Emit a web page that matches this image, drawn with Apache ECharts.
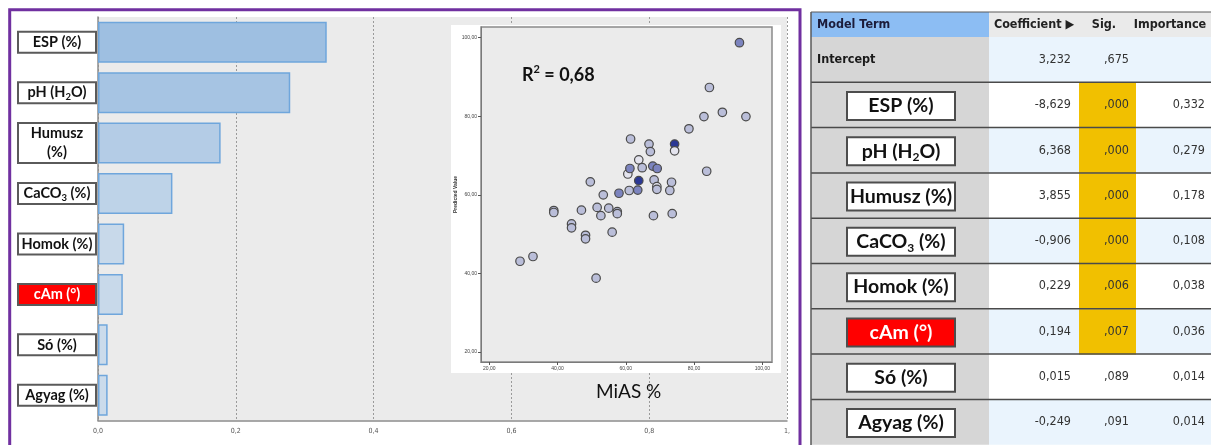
<!DOCTYPE html>
<html>
<head>
<meta charset="utf-8">
<script src="https://cdn.jsdelivr.net/npm/echarts@6/dist/echarts.min.js"></script>
<style>html,body{margin:0;padding:0;background:#fff}#c{width:1211px;height:445px}</style>
</head>
<body>
<div id="c"></div>
<script>
// ---------------- data ----------------
const categories = ['ESP (%)', 'pH (H_2O)', 'Humusz (%)', 'CaCO_3 (%)', 'Homok (%)', 'cAm (°)', 'Só (%)', 'Agyag (%)'];
const importance = [0.332, 0.279, 0.178, 0.108, 0.038, 0.036, 0.014, 0.014];
const barTicks = [0, 0.2, 0.4, 0.6, 0.8, 1.0];

const modelTerms = ['Intercept'].concat(categories);
const coefficients = [3.232, -8.629, 6.368, 3.855, -0.906, 0.229, 0.194, 0.015, -0.249];
const significance = [0.675, 0.000, 0.000, 0.000, 0.000, 0.006, 0.007, 0.089, 0.091];
const tableHeaders = ['Model Term', 'Coefficient ▶', 'Sig.', 'Importance'];

// scatter: observed MiAS % vs predicted value
const observedMiAS = [93.3, 84.5, 82.9, 88.3, 95.2, 78.5, 61.4, 66.8, 74.3, 74.3, 67.2, 63.8, 60.6, 61.2, 64.8, 67.9, 69.2, 83.7, 63.8, 68.3, 73.4, 49.6, 53.4, 58.0, 61.0, 63.5, 69.1, 69.1, 72.9, 38.9, 38.9, 47.0, 51.6, 55.0, 57.5, 57.5, 52.7, 68.1, 73.6, 44.1, 44.1, 48.2, 48.2, 56.0, 29.0, 32.8, 51.3];
const predictedMiAS = [98.7, 87.3, 79.9, 81.0, 79.9, 76.8, 74.2, 72.9, 72.9, 71.2, 71.0, 68.9, 65.3, 66.7, 66.9, 67.3, 66.7, 66.0, 63.6, 63.8, 63.2, 63.3, 60.0, 60.4, 61.1, 61.2, 62.1, 61.4, 61.1, 56.0, 55.5, 56.1, 56.8, 56.6, 55.7, 55.2, 54.7, 54.7, 55.2, 52.6, 51.6, 49.7, 48.8, 50.5, 43.1, 44.3, 38.8];
const pointShade = [2, 1, 1, 1, 1, 1, 1, 1, 3, 0, 1, 0, 0, 2, 1, 2, 2, 1, 3, 1, 1, 1, 1, 2, 1, 2, 0, 1, 1, 1, 1, 1, 1, 1, 1, 1, 1, 1, 1, 1, 1, 1, 1, 1, 1, 1, 1];
const scatterTicks = [20, 40, 60, 80, 100];
const r2Text = '0,68';
const scatterTitle = 'MiAS %';

// ---------------- helpers ----------------
const FONT = 'Lato, "Open Sans", sans-serif';
const NARROW = '"Liberation Sans Narrow", "DejaVu Sans Condensed", "Liberation Sans", sans-serif';
const comma = (v, d) => v.toFixed(d).replace('.', ',');
function toRich(text, style) {
  return text.split('\n').map(line => {
    const parts = line.split(/_(\d)/);
    return parts.map((p, i) => (i % 2 === 1) ? '{' + style + 's|' + p + '}' : (p ? '{' + style + '|' + p + '}' : '')).join('');
  }).join('\n');
}
function barColor(v) {
  const t = Math.min(1, v / 0.332);
  const a = [205, 220, 235], b = [158, 191, 225];
  const c = a.map((x, i) => Math.round(x + (b[i] - x) * t));
  return 'rgb(' + c.join(',') + ')';
}
const shadeColors = ['#E4E4EE', '#BABED9', '#7C84BF', '#2B3894'];

// ---------------- table graphics ----------------
const colX = [811, 989, 1079, 1136, 1211];
const headTop = 12, headBot = 37, rowH = 45.3;
const g = [];
g.push({type: 'rect', z: 1, shape: {x: colX[0], y: headTop, width: colX[1] - colX[0], height: headBot - headTop}, style: {fill: '#8CBDF3'}});
g.push({type: 'rect', z: 1, shape: {x: colX[1], y: headTop, width: colX[4] - colX[1], height: headBot - headTop}, style: {fill: '#EAEAEA'}});
g.push({type: 'text', z: 3, x: colX[0] + 6, y: (headTop + headBot) / 2, style: {text: tableHeaders[0], fill: '#1C1C3A', font: 'bold 12.5px ' + NARROW, verticalAlign: 'middle', align: 'left'}});
const headCenters = [0, 1034, 1104, 1170];
for (let i = 1; i < 4; i++) {
  g.push({type: 'text', z: 3, x: headCenters[i], y: (headTop + headBot) / 2, style: {text: tableHeaders[i], fill: '#222', font: 'bold 12.5px ' + NARROW, verticalAlign: 'middle', align: 'center'}});
}
modelTerms.forEach((term, i) => {
  const top = headBot + i * rowH;
  const cy = top + rowH / 2;
  g.push({type: 'rect', z: 1, shape: {x: colX[0], y: top, width: colX[1] - colX[0], height: rowH}, style: {fill: '#D6D6D6'}});
  g.push({type: 'rect', z: 1, shape: {x: colX[1], y: top, width: colX[4] - colX[1], height: rowH}, style: {fill: (i % 2 === 0) ? '#EAF4FD' : '#FFFFFF'}});
  if (i > 0 && significance[i] < 0.05) {
    g.push({type: 'rect', z: 1.5, shape: {x: colX[2], y: top + 0.5, width: colX[3] - colX[2], height: rowH}, style: {fill: '#F1C000'}});
  }
  if (i === 0) {
    g.push({type: 'text', z: 3, x: colX[0] + 6, y: cy, style: {text: term, fill: '#1a1a1a', font: 'bold 12.5px ' + NARROW, verticalAlign: 'middle'}});
  } else {
    const isRed = term.indexOf('cAm') === 0;
    g.push({type: 'rect', z: 2, shape: {x: 847, y: cy - 13, width: 108, height: 28}, style: {fill: isRed ? '#FF0000' : '#FFFFFF', stroke: '#4D4D4D', lineWidth: 2}});
    g.push({type: 'text', z: 3, x: 901, y: cy + 1, style: {
      text: toRich(term, isRed ? 'w' : 'k'), align: 'center', verticalAlign: 'middle',
      rich: {
        k: {fill: '#111', fontFamily: FONT, fontWeight: 'bold', fontSize: 19.5, lineHeight: 24},
        ks: {fill: '#111', fontFamily: FONT, fontWeight: 'bold', fontSize: 12, lineHeight: 12, verticalAlign: 'bottom'},
        w: {fill: '#fff', fontFamily: FONT, fontWeight: 'bold', fontSize: 19.5, lineHeight: 24},
        ws: {fill: '#fff', fontFamily: FONT, fontWeight: 'bold', fontSize: 12, lineHeight: 12, verticalAlign: 'bottom'}
      }}});
  }
  const vf = 'normal 12.5px ' + NARROW;
  g.push({type: 'text', z: 3, x: 1071, y: cy, style: {text: comma(coefficients[i], 3), fill: '#333', font: vf, align: 'right', verticalAlign: 'middle'}});
  g.push({type: 'text', z: 3, x: 1129, y: cy, style: {text: comma(significance[i], 3).replace(/^0/, ''), fill: '#333', font: vf, align: 'right', verticalAlign: 'middle'}});
  if (i > 0) {
    g.push({type: 'text', z: 3, x: 1205, y: cy, style: {text: comma(importance[i - 1], 3), fill: '#333', font: vf, align: 'right', verticalAlign: 'middle'}});
    g.push({type: 'line', z: 2.5, shape: {x1: colX[0], y1: top, x2: colX[4], y2: top}, style: {stroke: '#4A4A4A', lineWidth: 1.5}});
  }
});
g.push({type: 'line', z: 2.5, shape: {x1: colX[0], y1: headTop, x2: colX[0], y2: 445}, style: {stroke: '#5A5A5A', lineWidth: 1.5}});
g.push({type: 'line', z: 2.5, shape: {x1: colX[0], y1: headTop, x2: colX[4], y2: headTop}, style: {stroke: '#5A5A5A', lineWidth: 1}});

// inset panel, texts, frame
g.push({type: 'rect', z: 3, shape: {x: 451, y: 25, width: 330, height: 348}, style: {fill: '#FFFFFF'}});
g.push({type: 'text', z: 20, x: 522, y: 75, style: {
  text: '{a|R}{s|2}{a| = ' + r2Text + '}', verticalAlign: 'middle',
  rich: {a: {fill: '#111', fontFamily: FONT, fontWeight: 'bold', fontSize: 18, lineHeight: 22},
         s: {fill: '#111', fontFamily: FONT, fontWeight: 'bold', fontSize: 11, lineHeight: 11, verticalAlign: 'top'}}}});
g.push({type: 'text', z: 20, x: 596, y: 392, style: {text: scatterTitle, fill: '#111', font: 'normal 19px ' + FONT, verticalAlign: 'middle'}});
g.push({type: 'rect', z: 30, shape: {x: 9.7, y: 9.7, width: 790.3, height: 440}, style: {fill: 'none', stroke: '#7030A0', lineWidth: 3}});

// ---------------- chart ----------------
const labelBox = {align: 'center', width: 74, backgroundColor: '#FFFFFF', borderColor: '#5A5A5A', borderWidth: 2, padding: [0, 1, 0, 1]};
const chart = echarts.init(document.getElementById('c'), null, {renderer: 'canvas'});
chart.setOption({
  animation: false,
  backgroundColor: '#FFFFFF',
  grid: [
    {left: 98, top: 17, width: 689, height: 403.5, containLabel: false, outerBoundsMode: 'none', show: true, backgroundColor: '#EBEBEB', borderWidth: 0, z: 0},
    {left: 481, top: 27, width: 291, height: 335, containLabel: false, outerBoundsMode: 'none', show: true, backgroundColor: '#EBEBEB', borderColor: '#8A8A8A', borderWidth: 1.5, z: 5}
  ],
  xAxis: [
    {gridIndex: 0, type: 'value', min: barTicks[0], max: barTicks[barTicks.length - 1], interval: 0.2,
     axisLine: {show: true, lineStyle: {color: '#8C8C8C', width: 1.5}}, axisTick: {show: false},
     axisLabel: {fontSize: 7, color: '#555', margin: 7, fontFamily: NARROW, formatter: v => v === 1 ? '1,' : comma(v, 1)},
     splitLine: {show: true, lineStyle: {type: [2, 2], color: '#9A9A9A', width: 1}}},
    {gridIndex: 1, type: 'value', min: 17.57, max: 102.84, z: 6,
     axisLine: {show: true, onZero: false, lineStyle: {color: '#7A7A7A', width: 1}},
     axisTick: {show: true, length: 3, customValues: scatterTicks, lineStyle: {color: '#555'}},
     axisLabel: {fontSize: 5, color: '#444', margin: 4, customValues: scatterTicks, formatter: v => comma(v, 2)},
     splitLine: {show: false}}
  ],
  yAxis: [
    {gridIndex: 0, type: 'category', inverse: true,
     data: categories.map(c => c.indexOf('cAm') === 0 ? {value: c, textStyle: Object.assign({}, labelBox, {backgroundColor: '#FF0000'})} : c),
     axisLine: {show: true, lineStyle: {color: '#8C8C8C', width: 1.5}}, axisTick: {show: false},
     axisLabel: Object.assign({
       interval: 0, margin: 41,
       formatter: v => {
         const isRed = v.indexOf('cAm') === 0;
         const txt = v.indexOf('Humusz') === 0 ? v.replace(' ', '\n') : v;
         return toRich(txt, isRed ? 'w' : 'k');
       },
       rich: {
         k: {color: '#111', fontFamily: FONT, fontWeight: 'bold', fontSize: 14.5, lineHeight: 19},
         ks: {color: '#111', fontFamily: FONT, fontWeight: 'bold', fontSize: 9.5, lineHeight: 9.5, verticalAlign: 'bottom'},
         w: {color: '#FFFFFF', fontFamily: FONT, fontWeight: 'bold', fontSize: 14.5, lineHeight: 19},
         ws: {color: '#FFFFFF', fontFamily: FONT, fontWeight: 'bold', fontSize: 9.5, lineHeight: 9.5, verticalAlign: 'bottom'}
       }
     }, labelBox),
     splitLine: {show: false}},
    {gridIndex: 1, type: 'value', min: 17.46, max: 102.7, z: 6,
     name: 'Predicted Value', nameLocation: 'middle', nameGap: 20, nameRotate: 90,
     nameTextStyle: {fontSize: 5, fontWeight: 'bold', color: '#333'},
     axisLine: {show: true, onZero: false, lineStyle: {color: '#7A7A7A', width: 1}},
     axisTick: {show: true, length: 3, customValues: scatterTicks, lineStyle: {color: '#555'}},
     axisLabel: {fontSize: 5, color: '#444', margin: 4, customValues: scatterTicks, formatter: v => comma(v, 2)},
     splitLine: {show: false}}
  ],
  series: [
    {type: 'bar', xAxisIndex: 0, yAxisIndex: 0, barWidth: 41, z: 2,
     data: importance,
     itemStyle: {color: p => barColor(p.value), borderColor: '#6FA6DC', borderWidth: 1.5}},
    {type: 'scatter', xAxisIndex: 1, yAxisIndex: 1, symbolSize: 8.5, z: 8,
     data: observedMiAS.map((x, i) => [x, predictedMiAS[i], pointShade[i]]),
     itemStyle: {color: p => shadeColors[p.value[2]], borderColor: '#4A4A4A', borderWidth: 1.2, opacity: 1}}
  ],
  graphic: {elements: g}
});
</script>
</body>
</html>
